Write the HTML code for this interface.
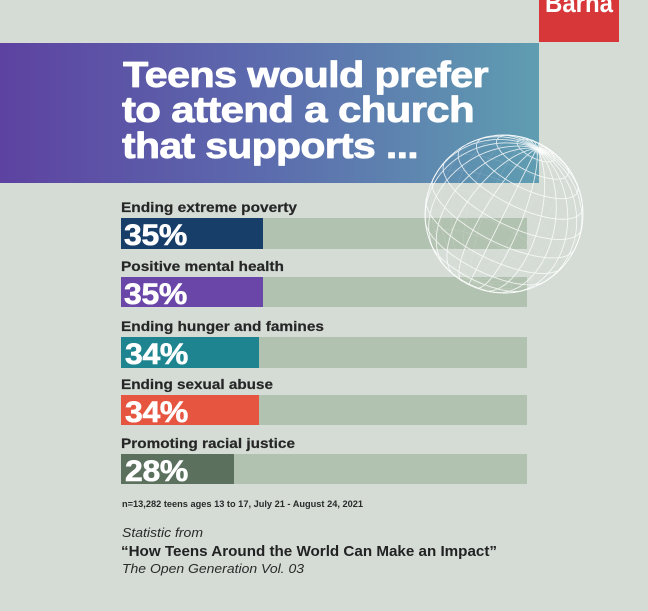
<!DOCTYPE html>
<html>
<head>
<meta charset="utf-8">
<style>
html,body{margin:0;padding:0;background:#d4dcd5;}
body{width:648px;height:611px;overflow:hidden;}
svg{display:block;}
.lbl{font-family:"Liberation Sans",Arial,sans-serif;font-weight:bold;font-size:14px;fill:#262626;stroke:#262626;stroke-width:0.2px;}
.pct{font-family:"Liberation Sans",Arial,sans-serif;font-weight:bold;font-size:30px;fill:#fff;stroke:#fff;stroke-width:0.6px;letter-spacing:-0.3px;}
.ttl{font-family:"Liberation Sans",Arial,sans-serif;font-weight:bold;font-size:36px;fill:#fff;stroke:#fff;stroke-width:0.8px;stroke-linejoin:round;letter-spacing:-0.6px;}
</style>
</head>
<body>
<svg id="s" width="648" height="611" viewBox="0 0 648 611" xmlns="http://www.w3.org/2000/svg">
<defs>
<linearGradient id="hg" x1="0" y1="0" x2="1" y2="0">
<stop offset="0" stop-color="#5d42a1"/>
<stop offset="0.5" stop-color="#5c6cae"/>
<stop offset="1" stop-color="#5f9db1"/>
</linearGradient>
<radialGradient id="hl" cx="0.5" cy="0.5" r="0.5">
<stop offset="0" stop-color="#fff" stop-opacity="0.95"/>
<stop offset="1" stop-color="#fff" stop-opacity="0"/>
</radialGradient>
</defs>
<rect x="0" y="0" width="648" height="611" fill="#d4dcd5"/>
<!-- header band -->
<rect x="0" y="43" width="539" height="140" fill="url(#hg)"/>
<!-- Barna box -->
<rect x="539" y="0" width="80" height="42" fill="#d8373a"/>
<text x="545" y="12" font-family="Liberation Sans, Arial, sans-serif" font-weight="bold" font-size="27" fill="#fff" textLength="68" lengthAdjust="spacingAndGlyphs">Barna</text>
<!-- title -->
<text class="ttl" x="123" y="87" textLength="365" lengthAdjust="spacingAndGlyphs">Teens would prefer</text>
<text class="ttl" x="122" y="122" textLength="352" lengthAdjust="spacingAndGlyphs">to attend a church</text>
<text class="ttl" x="122" y="158" textLength="296" lengthAdjust="spacingAndGlyphs">that supports ...</text>

<!-- bars -->
<rect x="121" y="218" width="406" height="31" fill="#b2c2b0"/>
<rect x="121" y="218" width="142" height="31" fill="#173d69"/>
<rect x="121" y="277" width="406" height="30" fill="#b2c2b0"/>
<rect x="121" y="277" width="142" height="30" fill="#6a46a8"/>
<rect x="121" y="337" width="406" height="31" fill="#b2c2b0"/>
<rect x="121" y="337" width="138" height="31" fill="#1e8590"/>
<rect x="121" y="395" width="406" height="30" fill="#b2c2b0"/>
<rect x="121" y="395" width="138" height="30" fill="#e6553f"/>
<rect x="121" y="454" width="406" height="30" fill="#b2c2b0"/>
<rect x="121" y="454" width="113" height="30" fill="#5b715e"/>

<text class="lbl" x="121" y="212" textLength="176" lengthAdjust="spacingAndGlyphs">Ending extreme poverty</text>
<text class="lbl" x="121" y="271" textLength="163" lengthAdjust="spacingAndGlyphs">Positive mental health</text>
<text class="lbl" x="121" y="331" textLength="203" lengthAdjust="spacingAndGlyphs">Ending hunger and famines</text>
<text class="lbl" x="121" y="389" textLength="152" lengthAdjust="spacingAndGlyphs">Ending sexual abuse</text>
<text class="lbl" x="121" y="448" textLength="174" lengthAdjust="spacingAndGlyphs">Promoting racial justice</text>

<text class="pct" x="124" y="245" textLength="63" lengthAdjust="spacingAndGlyphs">35%</text>
<text class="pct" x="124" y="304" textLength="63" lengthAdjust="spacingAndGlyphs">35%</text>
<text class="pct" x="125" y="364" textLength="63" lengthAdjust="spacingAndGlyphs">34%</text>
<text class="pct" x="125" y="422" textLength="63" lengthAdjust="spacingAndGlyphs">34%</text>
<text class="pct" x="125" y="481" textLength="63" lengthAdjust="spacingAndGlyphs">28%</text>

<!-- footer -->
<text x="122" y="507" font-family="Liberation Sans, Arial, sans-serif" font-weight="bold" font-size="9" fill="#2a2a2a" textLength="241" lengthAdjust="spacingAndGlyphs">n=13,282 teens ages 13 to 17, July 21 - August 24, 2021</text>
<text x="122" y="537" font-family="Liberation Sans, Arial, sans-serif" font-style="italic" font-size="13" fill="#2a2a2a" textLength="81" lengthAdjust="spacingAndGlyphs">Statistic from</text>
<text x="121" y="556" font-family="Liberation Sans, Arial, sans-serif" font-weight="bold" font-size="15" fill="#222" textLength="376" lengthAdjust="spacingAndGlyphs">“How Teens Around the World Can Make an Impact”</text>
<text x="122" y="573" font-family="Liberation Sans, Arial, sans-serif" font-style="italic" font-size="13" fill="#2a2a2a" textLength="182" lengthAdjust="spacingAndGlyphs">The Open Generation Vol. 03</text>

<g id="globe" fill="none" stroke="#ffffff" stroke-linecap="round"></g>
<ellipse cx="538" cy="150" rx="9" ry="5" transform="rotate(30 538 150)" fill="url(#hl)"/>
</svg>
<script>
(function(){
var cx=504, cy=214, R=79;
function norm(v){var l=Math.hypot(v[0],v[1],v[2]);return [v[0]/l,v[1]/l,v[2]/l];}
function cross(a,b){return [a[1]*b[2]-a[2]*b[1],a[2]*b[0]-a[0]*b[2],a[0]*b[1]-a[1]*b[0]];}
var a=norm([0.415,-0.83,0.37]);
var e1=norm([a[1],-a[0],0]);
var e2=cross(a,e1);
function pt(lat,lon){
  var cl=Math.cos(lat),sl=Math.sin(lat),co=Math.cos(lon),so=Math.sin(lon);
  return [R*(cl*(co*e1[0]+so*e2[0])+sl*a[0]),R*(cl*(co*e1[1]+so*e2[1])+sl*a[1]),R*(cl*(co*e1[2]+so*e2[2])+sl*a[2])];
}
var front="",back="";
function addCurve(f){
  var N=120;
  var segsF=[],segsB=[];
  var cur=[],curVis=null;
  for(var i=0;i<=N;i++){
    var p=f(i/N);
    var vis=p[2]>=-0.5;
    var s=(cx+p[0]).toFixed(2)+","+(cy+p[1]).toFixed(2);
    if(curVis===null){curVis=vis;cur=[s];}
    else if(vis===curVis){cur.push(s);}
    else{cur.push(s);(curVis?segsF:segsB).push(cur);cur=[s];curVis=vis;}
  }
  if(cur.length>1)(curVis?segsF:segsB).push(cur);
  segsF.forEach(function(c){front+="M"+c.join("L");});
  segsB.forEach(function(c){back+="M"+c.join("L");});
}
var d2r=Math.PI/180;
for(var lat=-75;lat<=75;lat+=15){
  (function(L){addCurve(function(t){return pt(L*d2r,t*2*Math.PI);});})(lat);
}
for(var lon=0;lon<360;lon+=15){
  (function(L){addCurve(function(t){return pt((-90+180*t)*d2r,L*d2r);});})(lon);
}
var g=document.getElementById("globe");
var ns="http://www.w3.org/2000/svg";
var pb=document.createElementNS(ns,"path");
pb.setAttribute("d",back);pb.setAttribute("stroke-width","0.6");pb.setAttribute("stroke-opacity","0.15");
g.appendChild(pb);
var pf=document.createElementNS(ns,"path");
pf.setAttribute("d",front);pf.setAttribute("stroke-width","0.9");pf.setAttribute("stroke-opacity","0.8");
g.appendChild(pf);
var c=document.createElementNS(ns,"circle");
c.setAttribute("cx",cx);c.setAttribute("cy",cy);c.setAttribute("r",R);
c.setAttribute("stroke-width","1");c.setAttribute("stroke-opacity","0.85");
g.appendChild(c);
})();
</script>
</body>
</html>
